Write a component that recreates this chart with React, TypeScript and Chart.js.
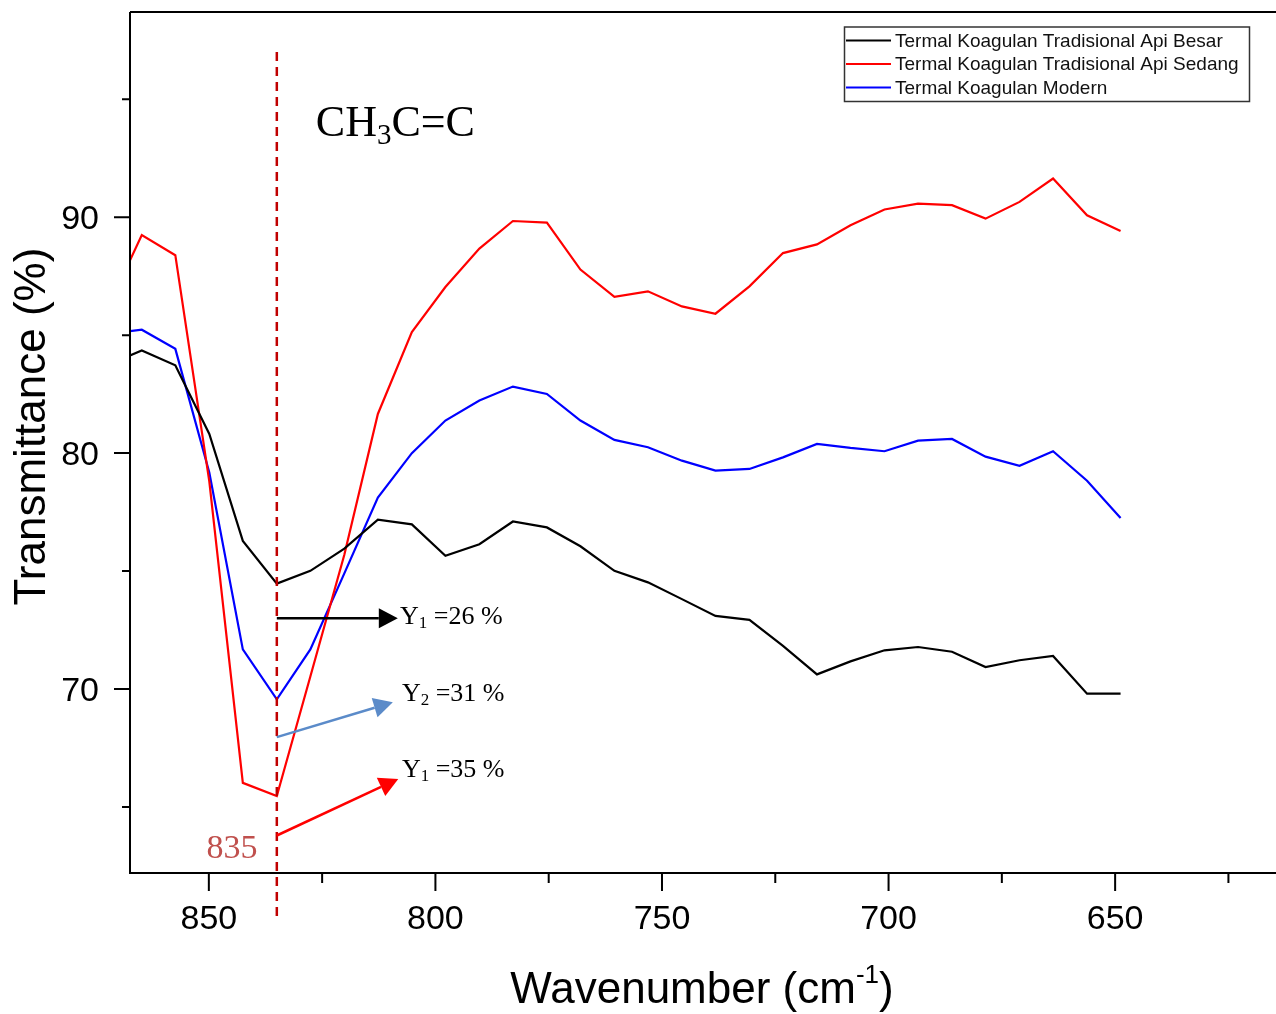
import React, { useEffect, useRef } from 'react';
import { Chart, registerables } from 'chart.js';

Chart.register(...registerables);

// ---------- data ----------
const wavenumbers = [
  867.4, 864.8, 857.4, 849.9, 842.5, 835.0, 827.6, 820.1, 812.7, 805.2, 797.8,
  790.3, 782.9, 775.4, 768.0, 760.5, 753.1, 745.6, 738.2, 730.7, 723.3, 715.8,
  708.4, 700.9, 693.5, 686.0, 678.6, 671.1, 663.7, 656.2, 648.8,
];
const apiBesar = [
  84.14, 84.35, 83.72, 80.81, 76.28, 74.47, 75.01, 75.95, 77.18, 76.98, 75.65,
  76.14, 77.1, 76.85, 76.05, 75.01, 74.52, 73.81, 73.1, 72.93, 71.83, 70.62,
  71.17, 71.64, 71.78, 71.58, 70.93, 71.22, 71.4, 69.8, 69.8,
];
const apiSedang = [
  88.17, 89.24, 88.39, 78.8, 66.02, 65.46, 70.53, 75.69, 81.66, 85.13, 87.04,
  88.67, 89.84, 89.77, 87.78, 86.62, 86.86, 86.22, 85.91, 87.07, 88.48, 88.85,
  89.66, 90.33, 90.58, 90.51, 89.94, 90.65, 91.64, 90.08, 89.42,
];
const modern = [
  85.17, 85.23, 84.42, 79.18, 71.68, 69.56, 71.68, 74.9, 78.12, 80.0, 81.38,
  82.23, 82.82, 82.51, 81.38, 80.56, 80.25, 79.68, 79.26, 79.33, 79.82, 80.39,
  80.22, 80.08, 80.53, 80.6, 79.85, 79.46, 80.08, 78.83, 77.25,
];
const seriesLabels = [
  'Termal Koagulan Tradisional Api Besar',
  'Termal Koagulan Tradisional Api Sedang',
  'Termal Koagulan Modern',
];
const seriesValues = [apiBesar, apiSedang, modern];
const seriesColors = ['#000000', '#ff0000', '#0000ff'];

const xMajorTicks = [850, 800, 750, 700, 650];
const xMinorTicks = [825, 775, 725, 675, 625];
const yMajorTicks = [90, 80, 70];
const yMinorTicks = [95, 85, 75, 65];
const xRange = [614.5, 867.4];
const yRange = [62.2, 98.7];

const markerWavenumber = 835;
const markerLabel = '835';
const groupLabel = ['CH', '3', 'C=C'];
const groupAnchor = [826.4, 93.45];

// arrows: start (x,y) -> tip (x,y), text anchor
const arrowColors = ['#000000', '#5b8bc9', '#ff0000'];
const arrowStarts = [[835, 73.0], [835, 67.96], [835, 63.79]];
const arrowTips = [[808.3, 73.0], [809.4, 69.44], [808.2, 66.19]];
const arrowTextAnchors = [[807.8, 72.75], [807.4, 69.5], [807.4, 66.25]];
const arrowTexts = [
  ['Y', '1', ' =26 %'],
  ['Y', '2', ' =31 %'],
  ['Y', '1', ' =35 %'],
];

const xTitle = ['Wavenumber (cm', '-1', ')'];
const yTitle = 'Transmittance (%)';

const SANS = '"Liberation Sans", Arial, Helvetica, sans-serif';
const SERIF = '"Liberation Serif", "Times New Roman", serif';

type Part = { t: string; size: number; dy: number };

function drawRich(ctx: CanvasRenderingContext2D, parts: Part[], x: number, y: number, family: string, color: string, align: 'left' | 'center' = 'left') {
  const widths = parts.map((p) => {
    ctx.font = `${p.size}px ${family}`;
    return ctx.measureText(p.t).width;
  });
  const total = widths.reduce((a, b) => a + b, 0);
  let cx = align === 'center' ? x - total / 2 : x;
  ctx.fillStyle = color;
  ctx.textAlign = 'left';
  ctx.textBaseline = 'alphabetic';
  parts.forEach((p, i) => {
    ctx.font = `${p.size}px ${family}`;
    ctx.fillText(p.t, cx, y + p.dy);
    cx += widths[i];
  });
}

function drawArrow(ctx: CanvasRenderingContext2D, x1: number, y1: number, x2: number, y2: number, color: string) {
  const ang = Math.atan2(y2 - y1, x2 - x1);
  const headLen = 19;
  const headHalf = 10;
  const bx = x2 - headLen * Math.cos(ang);
  const by = y2 - headLen * Math.sin(ang);
  ctx.save();
  ctx.strokeStyle = color;
  ctx.fillStyle = color;
  ctx.lineWidth = 2.5;
  ctx.setLineDash([]);
  ctx.beginPath();
  ctx.moveTo(x1, y1);
  ctx.lineTo(bx, by);
  ctx.stroke();
  ctx.beginPath();
  ctx.moveTo(x2, y2);
  ctx.lineTo(bx + headHalf * Math.sin(ang), by - headHalf * Math.cos(ang));
  ctx.lineTo(bx - headHalf * Math.sin(ang), by + headHalf * Math.cos(ang));
  ctx.closePath();
  ctx.fill();
  ctx.restore();
}

const overlayPlugin = {
  id: 'overlay',
  afterDatasetsDraw(chart: any) {
    const { ctx, chartArea: a, scales } = chart;
    const xs = scales.x;
    const ys = scales.y;
    const px = (v: number) => xs.getPixelForValue(v);
    const py = (v: number) => ys.getPixelForValue(v);
    ctx.save();

    // axes frame
    ctx.strokeStyle = '#000';
    ctx.lineWidth = 2;
    ctx.setLineDash([]);
    ctx.beginPath();
    ctx.moveTo(a.left, a.top);
    ctx.lineTo(a.left, a.bottom);
    ctx.lineTo(a.right + 2, a.bottom);
    ctx.moveTo(a.left, a.top);
    ctx.lineTo(a.right + 2, a.top);
    ctx.stroke();

    // x ticks
    ctx.beginPath();
    xMajorTicks.forEach((v) => {
      ctx.moveTo(px(v), a.bottom);
      ctx.lineTo(px(v), a.bottom + 18);
    });
    xMinorTicks.forEach((v) => {
      ctx.moveTo(px(v), a.bottom);
      ctx.lineTo(px(v), a.bottom + 10);
    });
    yMajorTicks.forEach((v) => {
      ctx.moveTo(a.left - 16, py(v));
      ctx.lineTo(a.left, py(v));
    });
    yMinorTicks.forEach((v) => {
      ctx.moveTo(a.left - 8, py(v));
      ctx.lineTo(a.left, py(v));
    });
    ctx.stroke();

    // tick labels
    ctx.fillStyle = '#000';
    ctx.font = `34px ${SANS}`;
    ctx.textBaseline = 'alphabetic';
    ctx.textAlign = 'center';
    xMajorTicks.forEach((v) => ctx.fillText(String(v), px(v), a.bottom + 56));
    ctx.textAlign = 'right';
    yMajorTicks.forEach((v) => ctx.fillText(String(v), a.left - 31, py(v) + 12));

    // axis titles
    drawRich(ctx, [
      { t: xTitle[0], size: 44, dy: 0 },
      { t: xTitle[1], size: 26, dy: -20 },
      { t: xTitle[2], size: 44, dy: 0 },
    ], (a.left + a.right) / 2 - 1, 1003, SANS, '#000', 'center');

    ctx.save();
    ctx.translate(45, (a.top + a.bottom) / 2 - 16);
    ctx.rotate(-Math.PI / 2);
    ctx.font = `44px ${SANS}`;
    ctx.fillStyle = '#000';
    ctx.textAlign = 'center';
    ctx.textBaseline = 'alphabetic';
    ctx.fillText(yTitle, 0, 0);
    ctx.restore();

    // dashed marker line
    ctx.save();
    ctx.strokeStyle = '#c00000';
    ctx.lineWidth = 2.5;
    ctx.setLineDash([9, 6]);
    ctx.beginPath();
    ctx.moveTo(px(markerWavenumber), py(97.0));
    ctx.lineTo(px(markerWavenumber), a.bottom + 46);
    ctx.stroke();
    ctx.restore();

    // marker label
    ctx.font = `34px ${SERIF}`;
    ctx.fillStyle = '#c0504d';
    ctx.textAlign = 'left';
    ctx.textBaseline = 'alphabetic';
    ctx.fillText(markerLabel, px(850.5), py(62.82));

    // group label
    drawRich(ctx, [
      { t: groupLabel[0], size: 44, dy: 0 },
      { t: groupLabel[1], size: 29, dy: 8 },
      { t: groupLabel[2], size: 44, dy: 0 },
    ], px(groupAnchor[0]), py(groupAnchor[1]), SERIF, '#000');

    // arrows + texts
    arrowStarts.forEach((s, i) => {
      const t = arrowTips[i];
      drawArrow(ctx, px(s[0]), py(s[1]), px(t[0]), py(t[1]), arrowColors[i]);
      const ta = arrowTextAnchors[i];
      const parts = arrowTexts[i];
      drawRich(ctx, [
        { t: parts[0], size: 26, dy: 0 },
        { t: parts[1], size: 17, dy: 4 },
        { t: parts[2], size: 26, dy: 0 },
      ], px(ta[0]), py(ta[1]), SERIF, '#000');
    });

    // legend
    ctx.strokeStyle = '#333';
    ctx.lineWidth = 1.5;
    ctx.strokeRect(844.5, 27, 405, 74.5);
    const rows = [40.5, 64, 87.5];
    seriesLabels.forEach((lab, i) => {
      ctx.strokeStyle = seriesColors[i];
      ctx.lineWidth = 2.2;
      ctx.beginPath();
      ctx.moveTo(846, rows[i]);
      ctx.lineTo(891, rows[i]);
      ctx.stroke();
      ctx.font = `19px ${SANS}`;
      ctx.fillStyle = '#111';
      ctx.textAlign = 'left';
      ctx.textBaseline = 'middle';
      ctx.fillText(lab, 895, rows[i] + 1);
    });

    ctx.restore();
  },
};

export default function App() {
  const canvasRef = useRef<HTMLCanvasElement | null>(null);

  useEffect(() => {
    const canvas = canvasRef.current;
    if (!canvas) return;
    const datasets = seriesLabels.map((label, i) => ({
      label,
      data: wavenumbers.map((w, k) => ({ x: w, y: seriesValues[i][k] })),
      borderColor: seriesColors[i],
      backgroundColor: seriesColors[i],
      borderWidth: 2.2,
      pointRadius: 0,
      showLine: true,
      tension: 0,
    }));
    const chart = new Chart(canvas, {
      type: 'scatter',
      data: { datasets },
      options: {
        responsive: false,
        animation: false,
        devicePixelRatio: 1,
        layout: { padding: { left: 130, top: 12, right: 0, bottom: 141 } },
        plugins: { legend: { display: false }, tooltip: { enabled: false } },
        scales: {
          x: { type: 'linear', min: xRange[0], max: xRange[1], reverse: true, display: false },
          y: { type: 'linear', min: yRange[0], max: yRange[1], display: false },
        },
      },
      plugins: [overlayPlugin],
    } as any);
    return () => chart.destroy();
  }, []);

  return (
    <div style={{ position: 'fixed', left: 0, top: 0, width: 1276, height: 1014, background: '#fff' }}>
      <canvas ref={canvasRef} width={1276} height={1014} style={{ display: 'block' }} />
    </div>
  );
}
